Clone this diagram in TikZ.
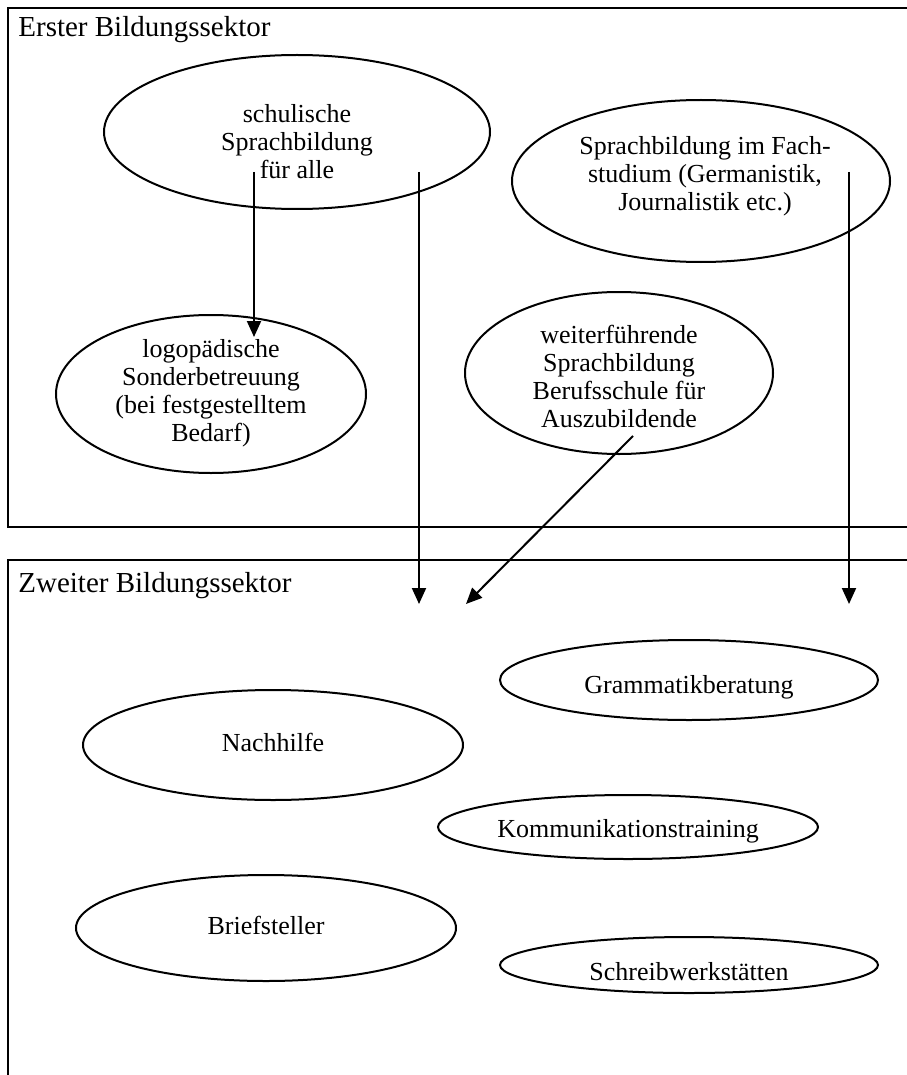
\documentclass[tikz,border=0pt]{standalone}
\usepackage{fontspec}
\setmainfont{Liberation Serif}
\usetikzlibrary{shapes.geometric,arrows.meta}

\tikzset{
  blob/.style={draw, ellipse, line width=1pt, inner sep=0pt},
  txt/.style={align=center, inner sep=0pt, font=\fontsize{13}{14}\selectfont},
  titel/.style={anchor=west, inner sep=0pt, font=\fontsize{14.5}{15}\selectfont},
  sektor/.style={line width=0.75pt},
  pfeil/.style={-{Triangle[length=8pt,width=7pt]}, line width=1pt},
}

\begin{document}
\begin{tikzpicture}[x=0.5pt,y=-0.5pt]
        \useasboundingbox (0,0) rectangle (906,1075);
        % Sektoren
        \draw[sektor] (930,8) -- (8,8) -- (8,527) -- (930,527);
        \draw[sektor] (930,560) -- (8,560) -- (8,1090);
        \node[titel] (erster) at (18,30) {Erster Bildungssektor};
        \node[titel] (zweiter) at (18,586) {Zweiter Bildungssektor};

        % erster Sektor
        \node[blob, minimum width=193pt, minimum height=77pt] (schul) at (297,132) {};
        \node[txt] (schultxt) at (297,142) {schulische\\Sprachbildung\\für alle};
        \node[blob, minimum width=189pt, minimum height=81pt] (fach) at (701,181) {};
        \node[txt] (fachtxt) at (705,176) {Sprachbildung im Fach-\\studium (Germanistik,\\Journalistik etc.)};
        \node[blob, minimum width=155pt, minimum height=79pt] (logo) at (211,394) {};
        \node[txt] (logotxt) at (211,393) {logopädische\\Sonderbetreuung\\(bei festgestelltem\\Bedarf)};
        \node[blob, minimum width=154pt, minimum height=81pt] (beruf) at (619,373) {};
        \node[txt] (beruftxt) at (619,376) {weiterführende\\Sprachbildung\\Berufsschule für\\Auszubildende};

        % zweiter Sektor
        \node[blob, minimum width=189pt, minimum height=40pt] (gramm) at (689,680) {};
        \node[txt] (grammtxt) at (689,687) {Grammatikberatung};
        \node[blob, minimum width=190pt, minimum height=55pt] (nachh) at (273,745) {};
        \node[txt] (nachhtxt) at (273,742) {Nachhilfe};
        \node[blob, minimum width=190pt, minimum height=32pt] (komm) at (628,827) {};
        \node[txt] (kommtxt) at (628,831) {Kommunikationstraining};
        \node[blob, minimum width=190pt, minimum height=53pt] (brief) at (266,928) {};
        \node[txt] (brieftxt) at (266,925) {Briefsteller};
        \node[blob, minimum width=189pt, minimum height=28pt] (schreib) at (689,965) {};
        \node[txt] (schreibtxt) at (689,972) {Schreibwerkstätten};

        % Pfeile
        \coordinate (a1) at (254,172);
        \coordinate (a2) at (254,337);
        \coordinate (b1) at (419,172);
        \coordinate (b2) at (419,604);
        \coordinate (c1) at (849,172);
        \coordinate (c2) at (849,604);
        \coordinate (d1) at (633,436);
        \coordinate (d2) at (466,604);
        \draw[pfeil] (a1) -- (a2);
        \draw[pfeil] (b1) -- (b2);
        \draw[pfeil] (c1) -- (c2);
        \draw[pfeil] (d1) -- (d2);
\end{tikzpicture}
\end{document}
